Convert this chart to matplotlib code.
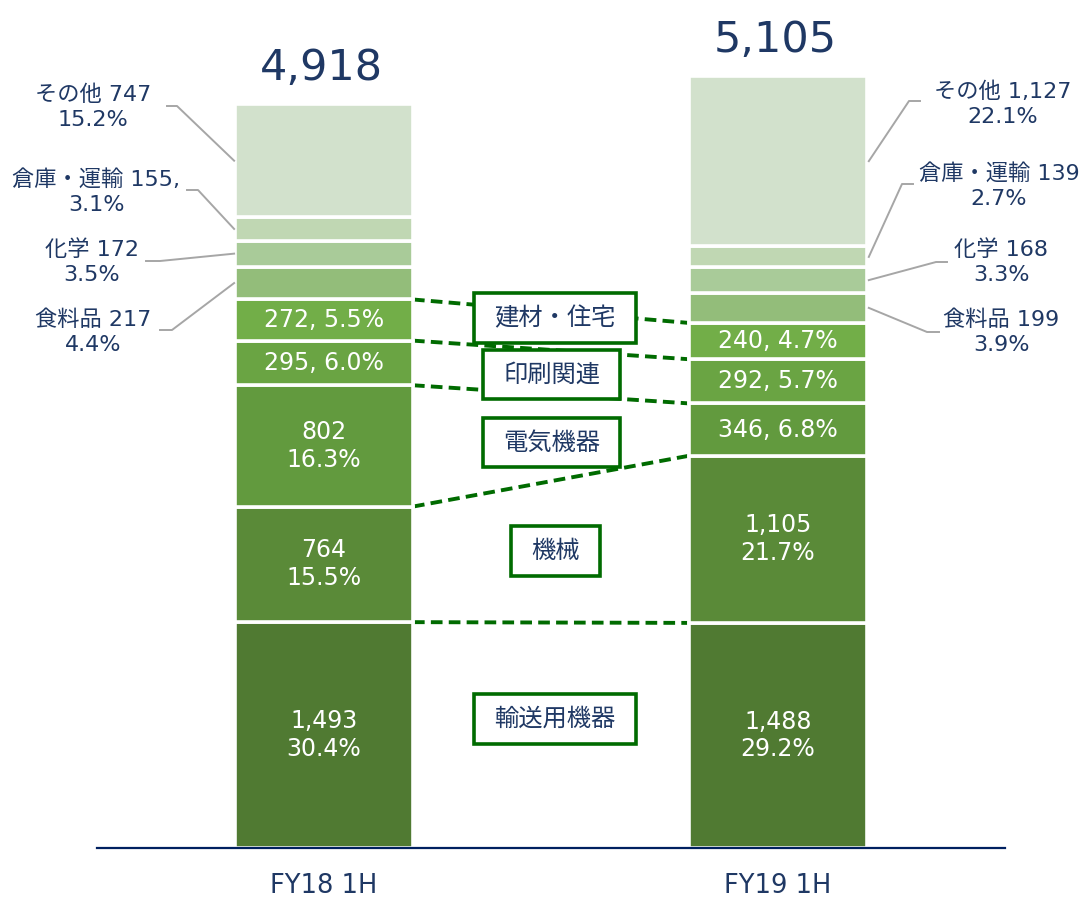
import matplotlib
matplotlib.use('Agg')
import matplotlib.pyplot as plt
from matplotlib.patches import Rectangle

plt.rcParams['font.family'] = ['DejaVu Sans', 'Noto Sans CJK JP']

# data
periods = ['FY18 1H', 'FY19 1H']
categories = ['輸送用機器', '機械', '電気機器', '印刷関連', '建材・住宅',
              '食料品', '化学', '倉庫・運輸', 'その他']
fy18 = [1493, 764, 802, 295, 272, 217, 172, 155, 747]
fy19 = [1488, 1105, 346, 292, 240, 199, 168, 139, 1127]
pct18 = [30.4, 15.5, 16.3, 6.0, 5.5, 4.4, 3.5, 3.1, 15.2]
pct19 = [29.2, 21.7, 6.8, 5.7, 4.7, 3.9, 3.3, 2.7, 22.1]
totals = [4918, 5105]

colors = ['#507A32', '#5A8A38', '#629A3E', '#6AA443', '#72AE48',
          '#93BD7A', '#A9CB99', '#C0D7B3', '#D2E1CC']
NAVY = '#1F3864'
GREEN = '#006B00'
GREY = '#A6A6A6'
CJK = ['Noto Sans CJK JP', 'DejaVu Sans']

W, H = 1082, 901
fig = plt.figure(figsize=(W / 100, H / 100), dpi=100)
ax = fig.add_axes([97 / W, 53 / H, 908 / W, 832 / H])
ax.set_xlim(-0.5, 1.5)
ax.set_ylim(0, 5500)
bw = 0.392

series = [fy18, fy19]
pcts = [pct18, pct19]
cum = [[0], [0]]
for j in range(2):
    for v in series[j]:
        cum[j].append(cum[j][-1] + v)

for j in range(2):
    ax.bar([j] * len(series[j]), series[j], width=bw, bottom=cum[j][:-1],
           color=colors, edgecolor='white', linewidth=2.6, zorder=2)
    # labels inside bars
    for i in range(5):
        v, p = series[j][i], pcts[j][i]
        if v > 500:
            txt = f'{v:,}\n{p:.1f}%'
        else:
            txt = f'{v}, {p:.1f}%'
        ax.text(j, cum[j][i] + v / 2, txt, ha='center', va='center',
                color='white', fontsize=17, linespacing=1.2, zorder=3)
    ax.annotate(f'{totals[j]:,}', xy=(j, cum[j][-1]), xytext=(-2, 11),
                textcoords='offset points', ha='center', va='bottom',
                color=NAVY, fontsize=31)

# dashed connectors between the two bars
for i in range(1, 6):
    ax.plot([bw / 2, 1 - bw / 2], [cum[0][i], cum[1][i]], color=GREEN,
            lw=2.8, ls=(0, (3, 1.6)), zorder=1)


def px2data(x, y):
    return ax.transData.inverted().transform((x, H - y))


# outside labels with leader lines (pixel layout: text centre, line start, corner)
left_layout = {5: ((93, 332), (160, 330), (172, 330)),
               6: ((92, 262), (146, 261), (160, 261)),
               7: ((96, 192), (187, 190), (198, 190)),
               8: ((93, 107), (167, 106), (177, 106))}
right_layout = {5: ((1001, 332), (939, 332), (927, 332)),
                6: ((1001, 262), (947, 262), (936, 262)),
                7: ((999, 186), (913, 184), (902, 184)),
                8: ((1003, 104), (920, 101), (909, 101))}

for j, layout in enumerate([left_layout, right_layout]):
    edge = -bw / 2 - 0.002 if j == 0 else 1 + bw / 2 + 0.004
    for i, (tc, p0, p1) in layout.items():
        v, p = series[j][i], pcts[j][i]
        name = categories[i]
        first = f'{name} {v:,}'
        if j == 0 and i == 7:
            first += ','
        tx, ty = px2data(*tc)
        ax.text(tx, ty, f'{first}\n{p:.1f}%', ha='center', va='center',
                color=NAVY, fontsize=16, linespacing=1.3)
        a = px2data(*p0)
        b = px2data(*p1)
        ymid = cum[j][i] + series[j][i] / 2
        ax.plot([a[0], b[0], edge], [a[1], b[1], ymid], color=GREY, lw=1.4,
                clip_on=False)

# category boxes in the middle (pixel layout: left, top, right, bottom)
boxes = {4: (474, 293, 636, 343), 3: (483, 350, 620, 399),
         2: (483, 418, 620, 467), 1: (511, 526, 600, 576),
         0: (474, 694, 636, 744)}
for i, (x0, y0, x1, y1) in boxes.items():
    fig.patches.append(Rectangle((x0 / W, 1 - y1 / H), (x1 - x0) / W,
                                 (y1 - y0) / H, transform=fig.transFigure,
                                 facecolor='white', edgecolor=GREEN, lw=2.6,
                                 zorder=5))
    fig.text((x0 + x1) / 2 / W, 1 - (y0 + y1) / 2 / H, categories[i],
             ha='center', va='center', color=NAVY, fontsize=17.5,
             family=CJK, zorder=6)

ax.set_xticks([0, 1])
ax.set_xticklabels(periods, fontsize=18.5, color=NAVY)
ax.tick_params(axis='x', length=0, pad=18)
ax.set_yticks([])
for s in ['top', 'left', 'right']:
    ax.spines[s].set_visible(False)
ax.spines['bottom'].set_color('#002060')
ax.spines['bottom'].set_linewidth(1.6)
ax.patch.set_alpha(0)

fig.savefig('out.png', dpi=100)
